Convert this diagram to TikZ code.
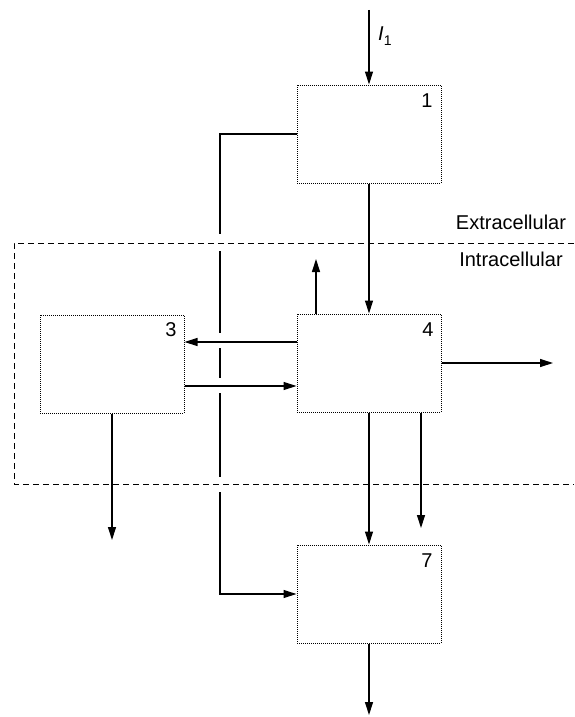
\documentclass[tikz,border=0pt]{standalone}
\usepackage{fontspec}
\setmainfont{Liberation Sans}
\usetikzlibrary{arrows.meta}
\begin{document}
\begin{tikzpicture}[x=1pt,y=-1pt,
  blk/.style={draw,dash pattern=on 1pt off 1pt,line width=1pt,minimum width=144pt,minimum height=98pt,inner sep=0pt},
  arr/.style={-{Triangle[length=13pt,width=8pt]},line width=1.2pt},
  lbl/.style={font=\fontsize{20}{23}\selectfont,inner sep=0pt},
  bound/.style={dash pattern=on 6pt off 4pt,line width=1pt}]
\useasboundingbox (0,0) rectangle (574,717);
% boxes
\node[blk] (b1) at (369,134) {};
\node[blk] (b3) at (112,364) {};
\node[blk] (b4) at (369,363) {};
\node[blk] (b7) at (369,594) {};
\node[lbl] (l1) at (427,101) {1};
\node[lbl] (l3) at (171,330) {3};
\node[lbl] (l4) at (428,330) {4};
\node[lbl] (l7) at (427,561) {7};
% feedback path from 1 to 7
\coordinate (lp) at (220,300);
\draw[arr] (b1.west) -| (lp) |- (b7.west);
% gaps
\fill[white] (216,234) rectangle (224,251);
\fill[white] (216,333) rectangle (224,348);
\fill[white] (216,378) rectangle (224,393);
\fill[white] (216,477) rectangle (224,492);
% boundary
\draw[bound] (574,243) -- (14,243) -- (14,484) -- (574,484);
\node[lbl] (ext) at (511,222) {Extracellular};
\node[lbl] (int) at (511,259) {Intracellular};
% input
\coordinate (in) at (369,10);
\draw[arr] (in) -- (b1.north);
\node[lbl,anchor=west] (i1) at (378,36) {\textit{I}\raisebox{-0.45ex}{\fontsize{14}{16}\selectfont 1}};
% 1 -> 4
\draw[arr] (b1.south) -- (b4.north);
% 4 <-> 3
\coordinate (y43) at (0,342);
\coordinate (y34) at (0,386);
\draw[arr] (b4.west |- y43) -- (b3.east |- y43);
\draw[arr] (b3.east |- y34) -- (b4.west |- y34);
% up from 4
\coordinate (up) at (316,259);
\draw[arr] (up |- b4.north) -- (up);
% right from 4
\coordinate (rt) at (553,363);
\draw[arr] (b4.east) -- (rt);
% down from 3
\coordinate (d3) at (112,540);
\draw[arr] (b3.south) -- (d3);
% down from 4 right
\coordinate (d4) at (421,528);
\draw[arr] (d4 |- b4.south) -- (d4);
% 4 -> 7
\draw[arr] (b4.south) -- (b7.north);
% out of 7
\coordinate (o7) at (369,715);
\draw[arr] (b7.south) -- (o7);
\end{tikzpicture}
\end{document}
